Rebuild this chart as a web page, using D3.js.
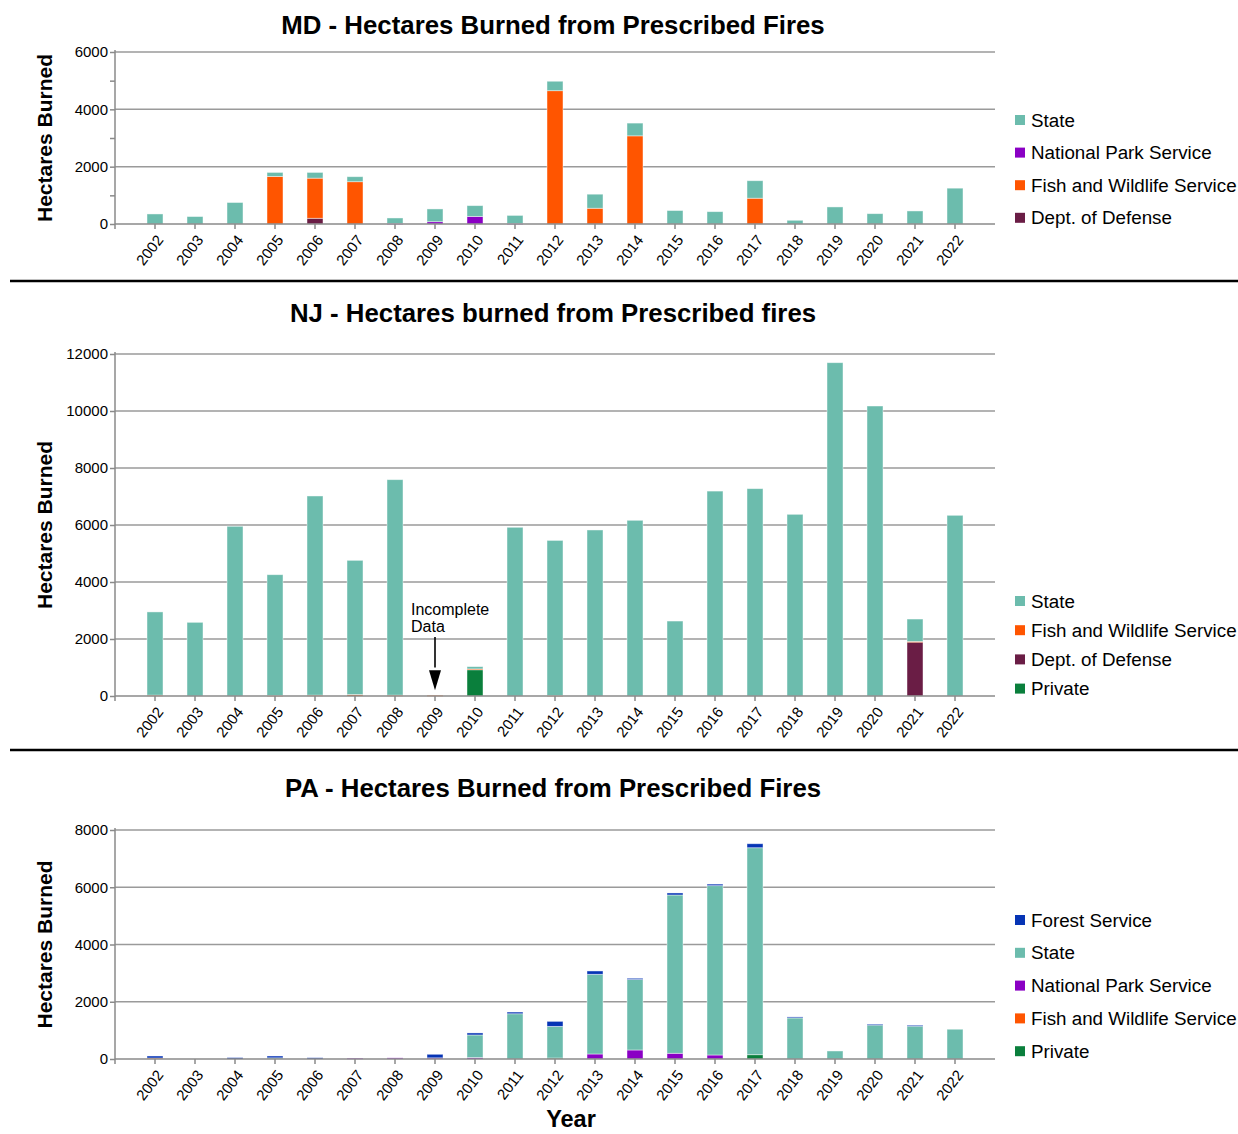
<!DOCTYPE html>
<html>
<head>
<meta charset="utf-8">
<script src="https://cdn.jsdelivr.net/npm/d3@7"></script>
<style>
  body { margin: 0; background: #fff; }
  svg { font-family: "Liberation Sans", Arial, sans-serif; }
  .grid line { stroke: #9a9a9a; stroke-width: 1.5; }
  .axis path, .axis line { stroke: #8a8a8a; stroke-width: 1.5; }
  .axis text { fill: #000; }
</style>
</head>
<body>
<svg width="1238" height="1134"></svg>
<script>
// categories
var years = ["2002","2003","2004","2005","2006","2007","2008","2009","2010","2011",
             "2012","2013","2014","2015","2016","2017","2018","2019","2020","2021","2022"];

// MD series (hectares)
var mdState   = [350,260,750,140,200,175,190,445,375,280,330,490,445,470,430,610,130,595,360,455,1250];
var mdNPS     = [0,0,0,0,0,0,20,80,265,20,0,0,0,0,0,0,0,0,0,0,0];
var mdFWS     = [0,0,0,1660,1400,1475,0,0,0,0,4650,550,3075,0,0,900,0,0,0,0,0];
var mdDoD     = [0,0,0,0,200,0,0,0,0,0,0,0,0,0,0,0,0,0,0,0,0];
var mdTicks   = [0,2000,4000,6000];

// NJ series
var njState   = [2920,2585,5955,4236,6988,4710,7560,0,80,5920,5440,5825,6165,2630,7190,7275,6375,11695,10175,785,6340];
var njFWS     = [30,0,0,20,30,50,30,25,20,0,20,0,0,0,0,0,0,0,0,10,0];
var njDoD     = [0,0,0,0,0,0,0,0,0,0,0,0,0,0,0,0,0,0,0,1905,0];
var njPrivate = [0,0,0,0,0,0,0,0,930,0,0,0,0,0,0,0,0,0,0,0,0];
var njTicks   = [0,2000,4000,6000,8000,10000,12000];

// PA series
var paFS      = [70,0,50,65,45,0,0,125,70,60,175,115,45,70,55,140,35,0,25,30,0];
var paState   = [0,0,0,40,0,0,0,0,790,1580,1105,2785,2460,5530,5915,7230,1435,280,1190,1150,1040];
var paNPS     = [0,0,0,0,0,30,40,40,50,0,0,175,315,200,140,0,0,0,0,0,0];
var paFWS     = [35,0,0,0,0,0,0,0,0,0,0,0,0,0,0,0,0,0,0,0,0];
var paPrivate = [0,0,0,0,0,0,0,0,0,0,35,0,0,0,0,150,0,0,0,0,0];
var paTicks   = [0,2000,4000,6000,8000];

var colors = {
  "State": "#6cbcad",
  "National Park Service": "#8a00c4",
  "Fish and Wildlife Service": "#ff5500",
  "Dept. of Defense": "#6a1d45",
  "Private": "#0a7f3c",
  "Forest Service": "#0634b5"
};

var svg = d3.select("svg");

// one panel = title, axes, stacked bars, legend
function drawPanel(p) {
  // stack order is bottom-up, legend is top-down (reversed)
  var rows = years.map(function(y, i) {
    var r = {year: y};
    p.series.forEach(function(s) { r[s.name] = s.values[i]; });
    return r;
  });
  var keys = p.series.map(function(s) { return s.name; });
  var stacked = d3.stack().keys(keys)(rows);

  var x = d3.scaleBand().domain(years).range([115, 995]).paddingInner(0.6).paddingOuter(0.8);
  var y = d3.scaleLinear().domain([0, p.max]).range([p.bottom, p.top]);

  var g = svg.append("g");

  g.append("text")
      .attr("x", 553).attr("y", p.titleY)
      .attr("text-anchor", "middle")
      .style("font-size", "25.8px").style("font-weight", "bold")
      .text(p.title);

  g.append("text")
      .attr("transform", "translate(52," + ((p.top + p.bottom) / 2) + ") rotate(-90)")
      .attr("text-anchor", "middle")
      .style("font-size", "21px").style("font-weight", "bold")
      .text("Hectares Burned");

  // gridlines
  g.append("g").attr("class", "grid")
    .selectAll("line")
    .data(p.ticks.slice(1))
    .enter().append("line")
      .attr("x1", 115).attr("x2", 995)
      .attr("y1", function(d) { return y(d); })
      .attr("y2", function(d) { return y(d); });

  // y axis
  var yAxis = d3.axisLeft(y).tickValues(p.minor || p.ticks).tickSize(5)
      .tickFormat(function(d) { return p.ticks.indexOf(d) >= 0 ? d : ""; });
  var ya = g.append("g").attr("class", "axis")
      .attr("transform", "translate(115,0)")
      .call(yAxis);
  ya.select(".domain").attr("d", "M0," + (p.top - 2) + "V" + (p.bottom + 5));
  ya.selectAll("text").style("font-size", "15px").attr("x", -7);

  // bars
  g.append("g").selectAll("g")
    .data(stacked)
    .enter().append("g")
      .attr("fill", function(d) { return colors[d.key]; })
    .selectAll("rect")
    .data(function(d) { return d; })
    .enter().append("rect")
      .filter(function(d) { return d[1] - d[0] > 0; })
      .attr("x", function(d) { return x(d.data.year); })
      .attr("width", x.bandwidth())
      .attr("y", function(d) { return y(d[1]); })
      .attr("height", function(d) { return Math.max(1, y(d[0]) - y(d[1])); })
      .attr("stroke", "#fff").attr("stroke-opacity", 0.55).attr("stroke-width", 0.8);

  // x axis
  var xa = g.append("g").attr("class", "axis")
      .attr("transform", "translate(0," + p.bottom + ")")
      .call(d3.axisBottom(x).tickSize(5).tickSizeOuter(0));
  xa.select(".domain").attr("d", "M115,0H995");
  xa.selectAll("text")
      .style("font-size", "15px")
      .attr("text-anchor", "end")
      .attr("dy", "0.35em")
      .attr("transform", "translate(5,13) rotate(-52)")
      .attr("y", 0).attr("x", 0);

  // legend
  var leg = g.append("g").selectAll("g")
    .data(keys.slice().reverse())
    .enter().append("g")
      .attr("transform", function(d, i) { return "translate(1015," + (p.legY + i * p.legStep) + ")"; });
  leg.append("rect")
      .attr("x", 0).attr("y", -5).attr("width", 10).attr("height", 10)
      .attr("fill", function(d) { return colors[d]; });
  leg.append("text")
      .attr("x", 16).attr("dy", "0.35em")
      .style("font-size", "18.8px")
      .text(function(d) { return d; });

  return {x: x, y: y};
}

drawPanel({
  title: "MD - Hectares Burned from Prescribed Fires", titleY: 34,
  top: 52, bottom: 224, max: 6000, ticks: mdTicks,
  minor: [0,1000,2000,3000,4000,5000,6000],
  legY: 120, legStep: 32.6,
  series: [
    {name: "Dept. of Defense", values: mdDoD},
    {name: "Fish and Wildlife Service", values: mdFWS},
    {name: "National Park Service", values: mdNPS},
    {name: "State", values: mdState}
  ]
});

var nj = drawPanel({
  title: "NJ - Hectares burned from Prescribed fires", titleY: 322,
  top: 354, bottom: 696, max: 12000, ticks: njTicks,
  legY: 601, legStep: 29.2,
  series: [
    {name: "Private", values: njPrivate},
    {name: "Dept. of Defense", values: njDoD},
    {name: "Fish and Wildlife Service", values: njFWS},
    {name: "State", values: njState}
  ]
});

drawPanel({
  title: "PA - Hectares Burned from Prescribed Fires", titleY: 797,
  top: 830, bottom: 1059, max: 8000, ticks: paTicks,
  legY: 920, legStep: 32.8,
  series: [
    {name: "Private", values: paPrivate},
    {name: "Fish and Wildlife Service", values: paFWS},
    {name: "National Park Service", values: paNPS},
    {name: "State", values: paState},
    {name: "Forest Service", values: paFS}
  ]
});

// panel separators
svg.selectAll("line.sep")
  .data([281, 750])
  .enter().append("line")
    .attr("x1", 10).attr("x2", 1238)
    .attr("y1", function(d) { return d; }).attr("y2", function(d) { return d; })
    .attr("stroke", "#000").attr("stroke-width", 2.5);

// "Incomplete Data" note on NJ 2009
var ax = nj.x("2009") + nj.x.bandwidth() / 2;
svg.append("line")
    .attr("x1", ax).attr("x2", ax)
    .attr("y1", 637).attr("y2", nj.y(1000))
    .attr("stroke", "#000").attr("stroke-width", 1.6);
svg.append("path")
    .attr("d", "M" + (ax - 6) + "," + nj.y(900) + "L" + (ax + 6) + "," + nj.y(900) + "L" + ax + "," + nj.y(200) + "Z")
    .attr("fill", "#000");
var note = svg.append("text").style("font-size", "16px");
note.append("tspan").attr("x", ax - 24).attr("y", 615).text("Incomplete");
note.append("tspan").attr("x", ax - 24).attr("y", 632).text("Data");

svg.append("text")
    .attr("x", 571).attr("y", 1127)
    .attr("text-anchor", "middle")
    .style("font-size", "23.5px").style("font-weight", "bold")
    .text("Year");
</script>
</body>
</html>
